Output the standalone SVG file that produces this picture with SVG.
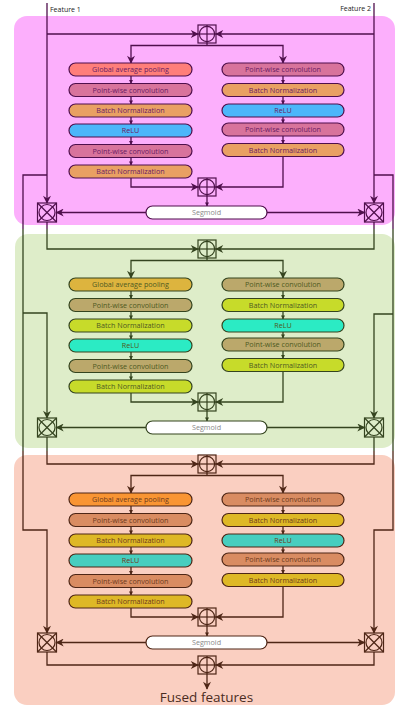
<svg xmlns="http://www.w3.org/2000/svg" xmlns:xlink="http://www.w3.org/1999/xlink" width="395" height="706" viewBox="0 0 395 706">
<style>
.t{font-family:"Open Sans","Noto Sans",sans-serif;font-size:7.2px;text-anchor:middle}
.t1{fill:#6A1B63}.t2{fill:#4E5A22}.t3{fill:#6E3A1C}
.b1{stroke:#4F0F4C;stroke-width:1.2}.b2{stroke:#34441F;stroke-width:1.2}.b3{stroke:#4E2616;stroke-width:1.2}
.c{fill:none;stroke-width:1.3}
.c1{stroke:#4F0F4C}.c2{stroke:#34441F}.c3{stroke:#4E2616}
.s{font-family:"Open Sans","Noto Sans",sans-serif;font-size:7.2px;text-anchor:middle;fill:#8A8A8A}
.lab{font-family:"Open Sans","Noto Sans",sans-serif;font-size:7px;fill:#222}
</style>
<defs>
<marker id="a1" viewBox="0 0 10 10" refX="9" refY="5" markerUnits="userSpaceOnUse" markerWidth="9" markerHeight="8" orient="auto"><path d="M0,0 L10,5 L0,10 L3,5 z" fill="#4F0F4C"/></marker>
<marker id="a2" viewBox="0 0 10 10" refX="9" refY="5" markerUnits="userSpaceOnUse" markerWidth="9" markerHeight="8" orient="auto"><path d="M0,0 L10,5 L0,10 L3,5 z" fill="#34441F"/></marker>
<marker id="a3" viewBox="0 0 10 10" refX="9" refY="5" markerUnits="userSpaceOnUse" markerWidth="9" markerHeight="8" orient="auto"><path d="M0,0 L10,5 L0,10 L3,5 z" fill="#4E2616"/></marker>
<marker id="m1" viewBox="0 0 10 10" refX="9" refY="5" markerUnits="userSpaceOnUse" markerWidth="4" markerHeight="4" orient="auto"><path d="M0,0 L10,5 L0,10 z" fill="#4F0F4C"/></marker>
<marker id="m2" viewBox="0 0 10 10" refX="9" refY="5" markerUnits="userSpaceOnUse" markerWidth="4" markerHeight="4" orient="auto"><path d="M0,0 L10,5 L0,10 z" fill="#34441F"/></marker>
<marker id="m3" viewBox="0 0 10 10" refX="9" refY="5" markerUnits="userSpaceOnUse" markerWidth="4" markerHeight="4" orient="auto"><path d="M0,0 L10,5 L0,10 z" fill="#4E2616"/></marker>
<g id="plus" fill="none" stroke-width="1.2"><rect x="-9" y="-9" width="18" height="18"/><circle r="7.6"/><line x1="-9" y1="0" x2="9" y2="0"/><line x1="0" y1="-9" x2="0" y2="9"/></g>
<g id="times" fill="none" stroke-width="1.2"><rect x="-9.5" y="-9.5" width="19" height="19"/><circle r="8"/><line x1="-9.5" y1="-9.5" x2="9.5" y2="9.5"/><line x1="-9.5" y1="9.5" x2="9.5" y2="-9.5"/></g>
</defs>
<rect width="395" height="706" fill="#ffffff"/>
<!-- panels -->
<rect x="14" y="16" width="381" height="209" rx="13" fill="#FCAFFC"/>
<rect x="15" y="234" width="380" height="214" rx="13" fill="#DEEDC9"/>
<rect x="14" y="455" width="381" height="250" rx="13" fill="#FACFC1"/>
<text class="lab" x="50" y="12">Feature 1</text>
<text class="lab" x="371" y="11" text-anchor="end">Feature 2</text>

<g id="connectors">
<!-- Feature lines -->
<path class="c c1" d="M47,3 V203" marker-end="url(#a1)"/>
<path class="c c1" d="M47,34 H198" marker-end="url(#a1)"/>
<path class="c c1" d="M374,3 V203" marker-end="url(#a1)"/>
<path class="c c1" d="M374,34 H216" marker-end="url(#a1)"/>
<!-- bypass left -->
<path class="c c1" d="M47,175 H23 V229"/>
<path class="c c2" d="M23,229 V451"/>
<path class="c c2" d="M23,313 H47 V418" marker-end="url(#a2)"/>
<path class="c c3" d="M23,451 V530 H47 V633" marker-end="url(#a3)"/>
<!-- bypass right -->
<path class="c c1" d="M374,175 H393 V229"/>
<path class="c c2" d="M393,229 V451"/>
<path class="c c2" d="M393,314 H374 V418" marker-end="url(#a2)"/>
<path class="c c3" d="M393,451 V530 H374 V633" marker-end="url(#a3)"/>

<!-- Panel 1 internal -->
<path class="c c1" d="M207,43 V45.5"/>
<path class="c c1" d="M207,45.5 H131 V63" marker-end="url(#a1)"/>
<path class="c c1" d="M207,45.5 H283 V63" marker-end="url(#a1)"/>
<path class="c c1" d="M131,76 V83.5" marker-end="url(#m1)"/>
<path class="c c1" d="M131,96.5 V104" marker-end="url(#m1)"/>
<path class="c c1" d="M131,117 V124" marker-end="url(#m1)"/>
<path class="c c1" d="M131,137 V144.5" marker-end="url(#m1)"/>
<path class="c c1" d="M131,157.5 V165" marker-end="url(#m1)"/>
<path class="c c1" d="M283,76 V83.5" marker-end="url(#m1)"/>
<path class="c c1" d="M283,96.5 V104" marker-end="url(#m1)"/>
<path class="c c1" d="M283,117 V123" marker-end="url(#m1)"/>
<path class="c c1" d="M283,136 V143.5" marker-end="url(#m1)"/>
<path class="c c1" d="M131,178 V187 H198" marker-end="url(#a1)"/>
<path class="c c1" d="M283,156.5 V187 H216" marker-end="url(#a1)"/>
<path class="c c1" d="M207,196 V206" marker-end="url(#m1)"/>
<path class="c c1" d="M146,212.5 H56.5" marker-end="url(#a1)"/>
<path class="c c1" d="M267,212.5 H364.5" marker-end="url(#a1)"/>
<!-- P1 -> P2 -->
<path class="c c1" d="M47,222 V229 M374,222 V229"/>
<path class="c c2" d="M47,229 V249 H198" marker-end="url(#a2)"/>
<path class="c c2" d="M374,229 V249 H216" marker-end="url(#a2)"/>

<!-- Panel 2 internal -->
<path class="c c2" d="M207,258 V260.5"/>
<path class="c c2" d="M207,260.5 H131 V278" marker-end="url(#a2)"/>
<path class="c c2" d="M207,260.5 H283 V278" marker-end="url(#a2)"/>
<path class="c c2" d="M131,291 V298.5" marker-end="url(#m2)"/>
<path class="c c2" d="M131,311.5 V319" marker-end="url(#m2)"/>
<path class="c c2" d="M131,332 V339" marker-end="url(#m2)"/>
<path class="c c2" d="M131,352 V359.5" marker-end="url(#m2)"/>
<path class="c c2" d="M131,372.5 V380" marker-end="url(#m2)"/>
<path class="c c2" d="M283,291 V298.5" marker-end="url(#m2)"/>
<path class="c c2" d="M283,311.5 V319" marker-end="url(#m2)"/>
<path class="c c2" d="M283,332 V338" marker-end="url(#m2)"/>
<path class="c c2" d="M283,351 V358.5" marker-end="url(#m2)"/>
<path class="c c2" d="M131,393 V402 H198" marker-end="url(#a2)"/>
<path class="c c2" d="M283,371.5 V402 H216" marker-end="url(#a2)"/>
<path class="c c2" d="M207,411 V421" marker-end="url(#m2)"/>
<path class="c c2" d="M146,427.5 H56.5" marker-end="url(#a2)"/>
<path class="c c2" d="M267,427.5 H364.5" marker-end="url(#a2)"/>
<!-- P2 -> P3 -->
<path class="c c2" d="M47,437 V451 M374,437 V451"/>
<path class="c c3" d="M47,451 V464 H198" marker-end="url(#a3)"/>
<path class="c c3" d="M374,451 V464 H216" marker-end="url(#a3)"/>

<!-- Panel 3 internal -->
<path class="c c3" d="M207,473 V475.5"/>
<path class="c c3" d="M207,475.5 H131 V493" marker-end="url(#a3)"/>
<path class="c c3" d="M207,475.5 H283 V493" marker-end="url(#a3)"/>
<path class="c c3" d="M131,506 V513.5" marker-end="url(#m3)"/>
<path class="c c3" d="M131,526.5 V534" marker-end="url(#m3)"/>
<path class="c c3" d="M131,547 V554" marker-end="url(#m3)"/>
<path class="c c3" d="M131,567 V574.5" marker-end="url(#m3)"/>
<path class="c c3" d="M131,587.5 V595" marker-end="url(#m3)"/>
<path class="c c3" d="M283,506 V513.5" marker-end="url(#m3)"/>
<path class="c c3" d="M283,526.5 V534" marker-end="url(#m3)"/>
<path class="c c3" d="M283,547 V553" marker-end="url(#m3)"/>
<path class="c c3" d="M283,566 V573.5" marker-end="url(#m3)"/>
<path class="c c3" d="M131,608 V617 H198" marker-end="url(#a3)"/>
<path class="c c3" d="M283,586.5 V617 H216" marker-end="url(#a3)"/>
<path class="c c3" d="M207,626 V636" marker-end="url(#m3)"/>
<path class="c c3" d="M146,642.5 H56.5" marker-end="url(#a3)"/>
<path class="c c3" d="M267,642.5 H364.5" marker-end="url(#a3)"/>
<path class="c c3" d="M47,652 V665 H198" marker-end="url(#a3)"/>
<path class="c c3" d="M374,652 V665 H216" marker-end="url(#a3)"/>
<path class="c c3" d="M207,674 V689" marker-end="url(#a3)"/>
</g>

<!-- Panel 1 nodes -->
<g id="p1-add-top"><use href="#plus" x="207" y="34" stroke="#4F0F4C"/></g>
<g id="p1-gap"><rect class="b1" x="69" y="63" width="123" height="13" rx="6.5" fill="#FF7E7A"/><text class="t t1" x="130.5" y="72">Global average pooling</text></g>
<g id="p1-pw1"><rect class="b1" x="69" y="83.5" width="123" height="13" rx="6.5" fill="#D8739C"/><text class="t t1" x="130.5" y="92.5">Point-wise convolution</text></g>
<g id="p1-bn1"><rect class="b1" x="69" y="104" width="123" height="13" rx="6.5" fill="#E9A063"/><text class="t t1" x="130.5" y="113">Batch Normalization</text></g>
<g id="p1-relu1"><rect class="b1" x="69" y="124" width="123" height="13" rx="6.5" fill="#4CB6FA"/><text class="t t1" x="130.5" y="133">ReLU</text></g>
<g id="p1-pw2"><rect class="b1" x="69" y="144.5" width="123" height="13" rx="6.5" fill="#D8739C"/><text class="t t1" x="130.5" y="153.5">Point-wise convolution</text></g>
<g id="p1-bn2"><rect class="b1" x="69" y="165" width="123" height="13" rx="6.5" fill="#E9A063"/><text class="t t1" x="130.5" y="174">Batch Normalization</text></g>
<g id="p1-rpw1"><rect class="b1" x="222" y="63" width="122" height="13" rx="6.5" fill="#D8739C"/><text class="t t1" x="283" y="72">Point-wise convolution</text></g>
<g id="p1-rbn1"><rect class="b1" x="222" y="83.5" width="122" height="13" rx="6.5" fill="#E9A063"/><text class="t t1" x="283" y="92.5">Batch Normalization</text></g>
<g id="p1-rrelu"><rect class="b1" x="222" y="104" width="122" height="13" rx="6.5" fill="#4CB6FA"/><text class="t t1" x="283" y="113">ReLU</text></g>
<g id="p1-rpw2"><rect class="b1" x="222" y="123" width="122" height="13" rx="6.5" fill="#D8739C"/><text class="t t1" x="283" y="132">Point-wise convolution</text></g>
<g id="p1-rbn2"><rect class="b1" x="222" y="143.5" width="122" height="13" rx="6.5" fill="#E9A063"/><text class="t t1" x="283" y="152.5">Batch Normalization</text></g>
<g id="p1-add-mid"><use href="#plus" x="207" y="187" stroke="#4F0F4C"/></g>
<g id="p1-sig"><rect class="b1" x="146" y="206" width="121" height="13" rx="6.5" fill="#ffffff"/><text class="s" x="206.5" y="215">Segmoid</text></g>
<g id="p1-mul-left"><use href="#times" x="47" y="212.5" stroke="#4F0F4C"/></g>
<g id="p1-mul-right"><use href="#times" x="374" y="212.5" stroke="#4F0F4C"/></g>

<!-- Panel 2 nodes -->
<g id="p2-add-top"><use href="#plus" x="207" y="249" stroke="#34441F"/></g>
<g id="p2-gap"><rect class="b2" x="69" y="278" width="123" height="13" rx="6.5" fill="#DDB43E"/><text class="t t2" x="130.5" y="287">Global average pooling</text></g>
<g id="p2-pw1"><rect class="b2" x="69" y="298.5" width="123" height="13" rx="6.5" fill="#BBA86B"/><text class="t t2" x="130.5" y="307.5">Point-wise convolution</text></g>
<g id="p2-bn1"><rect class="b2" x="69" y="319" width="123" height="13" rx="6.5" fill="#C7DB2A"/><text class="t t2" x="130.5" y="328">Batch Normalization</text></g>
<g id="p2-relu1"><rect class="b2" x="69" y="339" width="123" height="13" rx="6.5" fill="#2BEBC4"/><text class="t t2" x="130.5" y="348">ReLU</text></g>
<g id="p2-pw2"><rect class="b2" x="69" y="359.5" width="123" height="13" rx="6.5" fill="#BBA86B"/><text class="t t2" x="130.5" y="368.5">Point-wise convolution</text></g>
<g id="p2-bn2"><rect class="b2" x="69" y="380" width="123" height="13" rx="6.5" fill="#C7DB2A"/><text class="t t2" x="130.5" y="389">Batch Normalization</text></g>
<g id="p2-rpw1"><rect class="b2" x="222" y="278" width="122" height="13" rx="6.5" fill="#BBA86B"/><text class="t t2" x="283" y="287">Point-wise convolution</text></g>
<g id="p2-rbn1"><rect class="b2" x="222" y="298.5" width="122" height="13" rx="6.5" fill="#C7DB2A"/><text class="t t2" x="283" y="307.5">Batch Normalization</text></g>
<g id="p2-rrelu"><rect class="b2" x="222" y="319" width="122" height="13" rx="6.5" fill="#2BEBC4"/><text class="t t2" x="283" y="328">ReLU</text></g>
<g id="p2-rpw2"><rect class="b2" x="222" y="338" width="122" height="13" rx="6.5" fill="#BBA86B"/><text class="t t2" x="283" y="347">Point-wise convolution</text></g>
<g id="p2-rbn2"><rect class="b2" x="222" y="358.5" width="122" height="13" rx="6.5" fill="#C7DB2A"/><text class="t t2" x="283" y="367.5">Batch Normalization</text></g>
<g id="p2-add-mid"><use href="#plus" x="207" y="402" stroke="#34441F"/></g>
<g id="p2-sig"><rect class="b2" x="146" y="421" width="121" height="13" rx="6.5" fill="#ffffff"/><text class="s" x="206.5" y="430">Segmoid</text></g>
<g id="p2-mul-left"><use href="#times" x="47" y="427.5" stroke="#34441F"/></g>
<g id="p2-mul-right"><use href="#times" x="374" y="427.5" stroke="#34441F"/></g>

<!-- Panel 3 nodes -->
<g id="p3-add-top"><use href="#plus" x="207" y="464" stroke="#4E2616"/></g>
<g id="p3-gap"><rect class="b3" x="69" y="493" width="123" height="13" rx="6.5" fill="#F99533"/><text class="t t3" x="130.5" y="502">Global average pooling</text></g>
<g id="p3-pw1"><rect class="b3" x="69" y="513.5" width="123" height="13" rx="6.5" fill="#D98C62"/><text class="t t3" x="130.5" y="522.5">Point-wise convolution</text></g>
<g id="p3-bn1"><rect class="b3" x="69" y="534" width="123" height="13" rx="6.5" fill="#DEB826"/><text class="t t3" x="130.5" y="543">Batch Normalization</text></g>
<g id="p3-relu1"><rect class="b3" x="69" y="554" width="123" height="13" rx="6.5" fill="#47CEBF"/><text class="t t3" x="130.5" y="563">ReLU</text></g>
<g id="p3-pw2"><rect class="b3" x="69" y="574.5" width="123" height="13" rx="6.5" fill="#D98C62"/><text class="t t3" x="130.5" y="583.5">Point-wise convolution</text></g>
<g id="p3-bn2"><rect class="b3" x="69" y="595" width="123" height="13" rx="6.5" fill="#DEB826"/><text class="t t3" x="130.5" y="604">Batch Normalization</text></g>
<g id="p3-rpw1"><rect class="b3" x="222" y="493" width="122" height="13" rx="6.5" fill="#D98C62"/><text class="t t3" x="283" y="502">Point-wise convolution</text></g>
<g id="p3-rbn1"><rect class="b3" x="222" y="513.5" width="122" height="13" rx="6.5" fill="#DEB826"/><text class="t t3" x="283" y="522.5">Batch Normalization</text></g>
<g id="p3-rrelu"><rect class="b3" x="222" y="534" width="122" height="13" rx="6.5" fill="#47CEBF"/><text class="t t3" x="283" y="543">ReLU</text></g>
<g id="p3-rpw2"><rect class="b3" x="222" y="553" width="122" height="13" rx="6.5" fill="#D98C62"/><text class="t t3" x="283" y="562">Point-wise convolution</text></g>
<g id="p3-rbn2"><rect class="b3" x="222" y="573.5" width="122" height="13" rx="6.5" fill="#DEB826"/><text class="t t3" x="283" y="582.5">Batch Normalization</text></g>
<g id="p3-add-mid"><use href="#plus" x="207" y="617" stroke="#4E2616"/></g>
<g id="p3-sig"><rect class="b3" x="146" y="636" width="121" height="13" rx="6.5" fill="#ffffff"/><text class="s" x="206.5" y="645">Segmoid</text></g>
<g id="p3-mul-left"><use href="#times" x="47" y="642.5" stroke="#4E2616"/></g>
<g id="p3-mul-right"><use href="#times" x="374" y="642.5" stroke="#4E2616"/></g>
<g id="p3-add-out"><use href="#plus" x="207" y="665" stroke="#4E2616"/></g>
<g id="out-label"><text x="206.5" y="702" font-family="'Open Sans','Noto Sans',sans-serif" font-size="13.5" text-anchor="middle" fill="#4A2C22">Fused features</text></g>
</svg>
